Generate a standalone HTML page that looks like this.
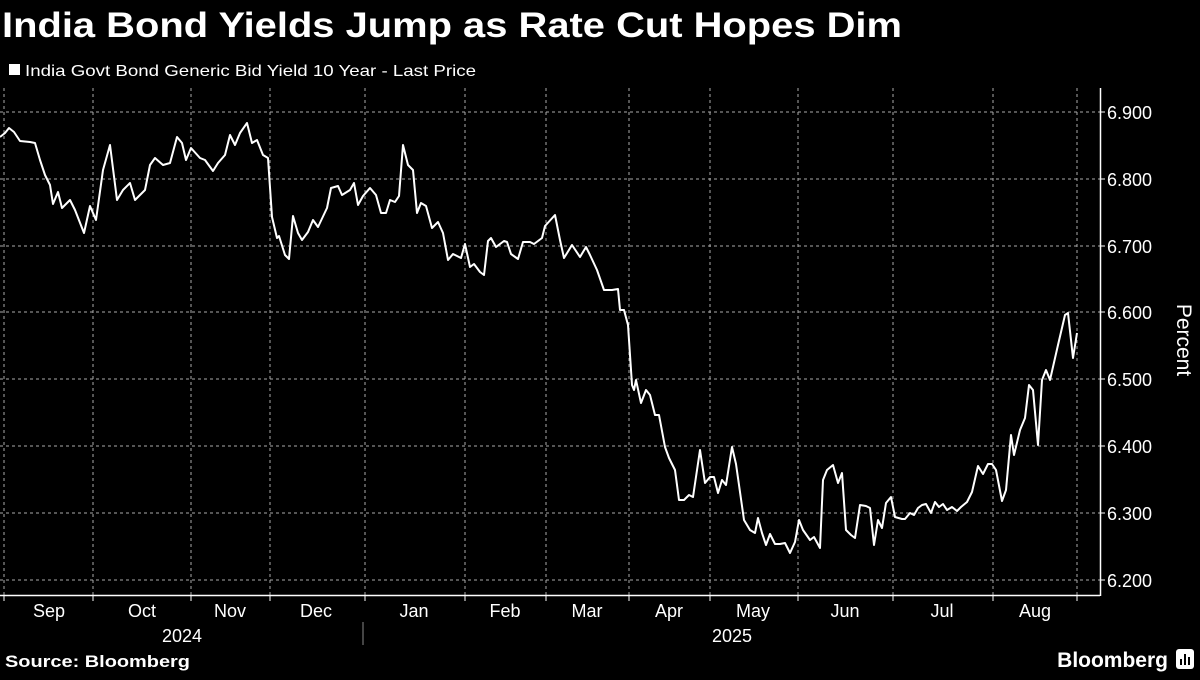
<!DOCTYPE html>
<html><head><meta charset="utf-8"><style>
body{margin:0;background:#000;width:1200px;height:675px;overflow:hidden;font-family:"Liberation Sans",sans-serif;color:#fff}
</style></head><body>
<svg width="1200" height="675" viewBox="0 0 1200 675" xmlns="http://www.w3.org/2000/svg" font-family="Liberation Sans, sans-serif">
<rect width="1200" height="675" fill="#000"/>
<text x="2" y="37" font-size="35" font-weight="bold" fill="#fff" textLength="900" lengthAdjust="spacingAndGlyphs">India Bond Yields Jump as Rate Cut Hopes Dim</text>
<rect x="9" y="64" width="11" height="11" fill="#fff"/>
<text x="25" y="76" font-size="16" fill="#fff" textLength="451" lengthAdjust="spacingAndGlyphs">India Govt Bond Generic Bid Yield 10 Year - Last Price</text>
<g stroke="#aaa" stroke-width="1" stroke-dasharray="3,3">
<line x1="0" y1="112" x2="1100" y2="112"/><line x1="0" y1="179" x2="1100" y2="179"/><line x1="0" y1="246" x2="1100" y2="246"/><line x1="0" y1="312" x2="1100" y2="312"/><line x1="0" y1="379" x2="1100" y2="379"/><line x1="0" y1="446" x2="1100" y2="446"/><line x1="0" y1="513" x2="1100" y2="513"/><line x1="0" y1="580" x2="1100" y2="580"/>
<line x1="4" y1="88" x2="4" y2="595"/><line x1="93" y1="88" x2="93" y2="595"/><line x1="191" y1="88" x2="191" y2="595"/><line x1="270" y1="88" x2="270" y2="595"/><line x1="365" y1="88" x2="365" y2="595"/><line x1="465" y1="88" x2="465" y2="595"/><line x1="546" y1="88" x2="546" y2="595"/><line x1="629" y1="88" x2="629" y2="595"/><line x1="710" y1="88" x2="710" y2="595"/><line x1="798" y1="88" x2="798" y2="595"/><line x1="893" y1="88" x2="893" y2="595"/><line x1="993" y1="88" x2="993" y2="595"/><line x1="1077" y1="88" x2="1077" y2="595"/>
</g>
<line x1="0" y1="595.5" x2="1100" y2="595.5" stroke="#fff" stroke-width="1.5"/>
<line x1="1100.5" y1="88" x2="1100.5" y2="596" stroke="#fff" stroke-width="1.5"/>
<g stroke="#fff" stroke-width="1">
<line x1="4" y1="596" x2="4" y2="601"/><line x1="93" y1="596" x2="93" y2="601"/><line x1="191" y1="596" x2="191" y2="601"/><line x1="270" y1="596" x2="270" y2="601"/><line x1="365" y1="596" x2="365" y2="601"/><line x1="465" y1="596" x2="465" y2="601"/><line x1="546" y1="596" x2="546" y2="601"/><line x1="629" y1="596" x2="629" y2="601"/><line x1="710" y1="596" x2="710" y2="601"/><line x1="798" y1="596" x2="798" y2="601"/><line x1="893" y1="596" x2="893" y2="601"/><line x1="993" y1="596" x2="993" y2="601"/><line x1="1077" y1="596" x2="1077" y2="601"/>
<line x1="363" y1="622" x2="363" y2="645" stroke="#888"/>
<line x1="1100" y1="112" x2="1105" y2="112"/><line x1="1100" y1="179" x2="1105" y2="179"/><line x1="1100" y1="246" x2="1105" y2="246"/><line x1="1100" y1="312" x2="1105" y2="312"/><line x1="1100" y1="379" x2="1105" y2="379"/><line x1="1100" y1="446" x2="1105" y2="446"/><line x1="1100" y1="513" x2="1105" y2="513"/><line x1="1100" y1="580" x2="1105" y2="580"/>
</g>
<g font-size="18" fill="#fff">
<text x="1107" y="119">6.900</text><text x="1107" y="186">6.800</text><text x="1107" y="253">6.700</text><text x="1107" y="319">6.600</text><text x="1107" y="386">6.500</text><text x="1107" y="453">6.400</text><text x="1107" y="520">6.300</text><text x="1107" y="587">6.200</text>
</g>
<text transform="translate(1177,340) rotate(90)" font-size="21" fill="#fff" text-anchor="middle">Percent</text>
<g font-size="18" fill="#fff" text-anchor="middle">
<text x="49" y="617">Sep</text><text x="142" y="617">Oct</text><text x="230" y="617">Nov</text><text x="316" y="617">Dec</text><text x="414" y="617">Jan</text><text x="505" y="617">Feb</text><text x="587" y="617">Mar</text><text x="669" y="617">Apr</text><text x="753" y="617">May</text><text x="845" y="617">Jun</text><text x="942" y="617">Jul</text><text x="1035" y="617">Aug</text>
<text x="182" y="642">2024</text><text x="732" y="642">2025</text>
</g>
<text x="5" y="667" font-size="17" font-weight="bold" fill="#fff" textLength="185" lengthAdjust="spacingAndGlyphs">Source: Bloomberg</text>
<text x="1168" y="667" font-size="21" font-weight="bold" fill="#fff" text-anchor="end">Bloomberg</text>
<rect x="1176" y="649" width="18" height="20" rx="3" fill="#fff"/>
<g stroke="#000" stroke-width="2"><line x1="1181" y1="665" x2="1181" y2="659"/><line x1="1185" y1="665" x2="1185" y2="654"/><line x1="1189" y1="665" x2="1189" y2="657"/></g>
<polyline fill="none" stroke="#fff" stroke-width="2" stroke-linejoin="round" points="0,137 5,133 9,128 14,132 20,141 30,142 35,143 40,160 45,175 50,185 53,204 58,192 62,208 70,200 75,210 84,233 90,206 96,220 103,170 110,145 117,200 123,190 130,183 135,200 145,190 150,165 155,158 163,165 170,163 177,137 182,143 186,160 191,148 200,158 205,160 213,171 218,163 225,155 230,135 235,145 240,133 247,123 252,143 257,140 263,155 268,158 272,217 277,238 279,236 285,255 289,259 293,216 298,233 302,240 308,232 313,220 318,227 327,208 331,188 338,186 342,195 350,190 354,183 358,205 363,196 370,188 376,195 381,213 386,213 390,200 395,202 399,196 403,145 408,165 413,170 417,213 421,203 426,206 432,228 438,222 443,233 448,260 453,254 461,258 465,244 470,267 474,264 480,272 484,275 488,241 491,238 496,247 504,241 507,242 511,254 518,259 523,242 530,242 534,244 542,238 545,226 555,215 560,240 564,258 572,245 580,257 586,247 590,255 597,270 604,290 612,290 618,289 620,310 624,310 628,325 632,385 634,390 636,380 641,403 646,390 650,395 655,415 659,415 665,447 669,458 675,470 679,500 684,500 689,495 693,497 700,450 705,483 710,477 714,477 718,493 722,480 726,485 732,447 736,464 744,520 750,530 755,533 758,518 762,533 766,545 770,534 775,544 780,544 785,543 790,553 795,542 799,520 803,530 810,540 814,537 820,548 823,480 827,470 833,465 838,483 842,473 846,530 851,535 855,538 860,505 866,506 870,508 874,545 878,520 882,528 886,503 891,497 895,517 902,519 905,519 910,513 914,515 918,508 922,505 926,504 931,513 935,502 939,507 943,504 947,510 952,507 957,511 961,507 967,502 972,492 978,466 983,474 988,464 992,464 996,470 1002,501 1006,490 1011,435 1014,455 1020,430 1025,418 1029,385 1033,390 1038,445 1042,380 1046,370 1050,380 1058,345 1065,315 1068,313 1073,358 1077,333"/>
</svg>
</body></html>
